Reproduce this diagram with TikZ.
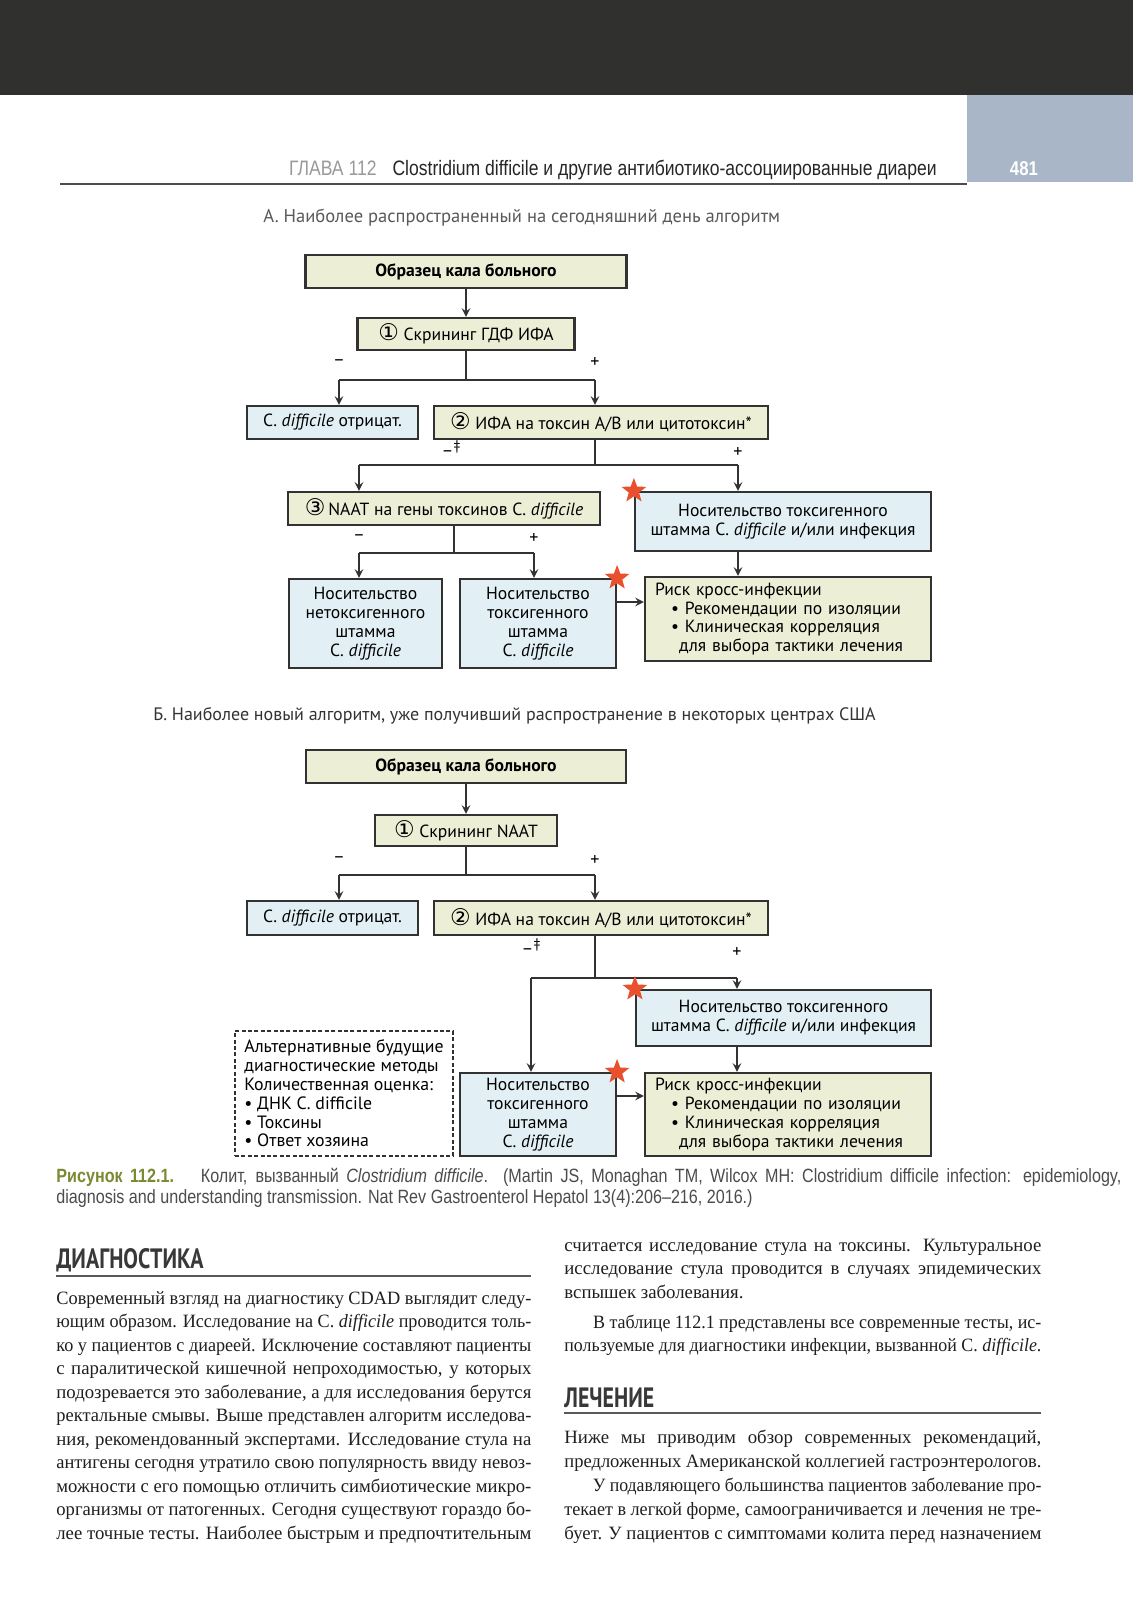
\documentclass[tikz,border=0pt]{standalone}
\usepackage{fontspec}
\usepackage{graphicx}
\usepackage{xcolor}
\usetikzlibrary{shapes,shapes.geometric,arrows,positioning,calc}
\setmainfont{Liberation Serif}
\newfontfamily\diagfont{PT Sans}
\newfontfamily\symfont{DejaVu Sans}
\newfontfamily\runfont[FakeStretch=0.84]{Liberation Sans}
\newfontfamily\secfont[FakeStretch=0.78]{PT Sans}
\definecolor{boxgreen}{RGB}{236,239,214}
\definecolor{boxblue}{RGB}{226,240,245}
\definecolor{edgegray}{RGB}{50,50,50}
\definecolor{starred}{RGB}{232,80,46}
\definecolor{bandgray}{RGB}{48,49,47}
\definecolor{tabblue}{RGB}{168,182,199}
\definecolor{figolive}{RGB}{122,138,50}
\newsavebox{\linebox}
\newcommand{\jline}[2]{%
  \sbox{\linebox}{#2}%
  \ifdim\wd\linebox>#1\relax
    \resizebox{#1}{\height}{\usebox{\linebox}}%
  \else
    \makebox[#1][s]{#2}%
  \fi}
\newcommand{\cnum}[1]{{\symfont\fontsize{11.5}{10}\selectfont #1}}
\tikzset{
    stepG/.style={rectangle, draw=edgegray, fill=boxgreen, line width=1.1pt, inner sep=2pt, align=center, font=\diagfont\fontsize{8.8}{9.4}\selectfont},
    stepB/.style={stepG, fill=boxblue},
    altbox/.style={rectangle, draw=edgegray, fill=white, line width=1pt, dash pattern=on 2pt off 1.2pt, align=left, inner sep=2pt, font=\diagfont\fontsize{8.9}{9.4}\selectfont},
    link/.style={line width=0.9pt, edgegray},
    flow/.style={link, -stealth},
    signlabel/.style={font=\diagfont\fontsize{9}{9}\selectfont, inner sep=0pt},
    starmark/.style={star, star points=5, star point ratio=2.4, fill=starred, minimum size=13pt, inner sep=0pt},
    bodyline/.style={anchor=base west, inner sep=0pt, font=\fontsize{9.4}{11}\selectfont, text=black!88},
    sechead/.style={anchor=base west, inner sep=0pt, font=\secfont\bfseries\fontsize{14}{16}\selectfont, text=black!78},
    secrule/.style={line width=1pt, black!65},
    capline/.style={anchor=base west, inner sep=0pt, font=\runfont\fontsize{9.6}{11}\selectfont, text=black!70},
}
\begin{document}
\begin{tikzpicture}[x=0.5pt, y=-0.5pt]
    \useasboundingbox (0,0) rectangle (1133,1600);
    \fill[white] (0,0) rectangle (1133,1600);

    % running head
    \fill[bandgray] (0,0) rectangle (1133,95);
    \node[fill=tabblue, anchor=north west, minimum width=83pt, minimum height=43.5pt, inner sep=0pt] (tab) at (967,95) {};
    \node[font=\runfont\bfseries\fontsize{10}{12}\selectfont, text=white, anchor=base] (pagenum) at (1024,176) {481};
    \draw[line width=0.8pt, black!70] (60,184) -- (967,184);
    \node[anchor=base east, inner sep=0pt, font=\runfont\fontsize{10.45}{12}\selectfont, text=black!85] (runhead) at (937,176)
        {{\color{black!40}ГЛАВА 112}\hspace{8pt}Clostridium difficile и другие антибиотико-ассоциированные диареи};

    % A
    \node[anchor=base west, inner sep=0pt, font=\diagfont\fontsize{9.27}{11}\selectfont, text=black!65] (capA) at (263,222)
        {А. Наиболее распространенный на сегодняшний день алгоритм};
    \node[stepG, minimum width=160.5pt, minimum height=16.5pt, font=\diagfont\bfseries\fontsize{8.8}{9.4}\selectfont] (A1) at (466,271.5) {Образец\ кала\ больного};
    \node[stepG, minimum width=108.5pt, minimum height=16pt] (A2) at (466,334) {\cnum{①} Скрининг ГДФ ИФА};
    \node[stepB, minimum width=85.5pt, minimum height=16.5pt] (A3) at (332.5,422.5) {C. \textit{difficile} отрицат.};
    \node[stepG, minimum width=167pt, minimum height=16.5pt] (A4) at (601,422.5) {\cnum{②} ИФА на токсин А/В или цитотоксин*};
    \node[stepG, minimum width=156pt, minimum height=16.5pt] (A5) at (444,508.5) {\cnum{③}\,NAAT на гены токсинов C. \textit{difficile}};
    \node[stepB, minimum width=148pt, minimum height=29.5pt] (A6) at (783,521.5) {Носительство токсигенного\\штамма C. \textit{difficile} и/или инфекция};
    \node[stepB, minimum width=76.5pt, minimum height=44.5pt] (A7) at (365.5,623.5) {Носительство\\нетоксигенного\\штамма\\C. \textit{difficile}};
    \node[stepB, minimum width=78pt, minimum height=44.5pt] (A8) at (538,623.5) {Носительство\\токсигенного\\штамма\\C. \textit{difficile}};
    \node[stepG, minimum width=143pt, minimum height=42pt, text width=133pt, align=left] (A9) at (788,619)
        {Риск кросс-инфекции\\\hspace*{8pt}• Рекомендации по изоляции\\\hspace*{8pt}• Клиническая корреляция\\\hspace*{12pt}для выбора тактики лечения};

    \coordinate (a2S) at (466,380); \coordinate (a2L) at (339,380); \coordinate (a2R) at (595,380);
    \coordinate (a4S) at (595,465); \coordinate (a4L) at (359,465); \coordinate (a4R) at (738,465);
    \coordinate (a5S) at (454,553); \coordinate (a5L) at (359,553); \coordinate (a5R) at (534,553);
    \coordinate (a8E) at (616,602);
    \draw[flow] (A1) -- (A2);
    \draw[link] (A2) -- (a2S);
    \draw[link] (a2L) -- (a2R);
    \draw[flow] (a2L) -- (a2L |- A3.north);
    \draw[flow] (a2R) -- (a2R |- A4.north);
    \draw[link] (a4S |- A4.south) -- (a4S);
    \draw[link] (a4L) -- (a4R);
    \draw[flow] (a4L) -- (a4L |- A5.north);
    \draw[flow] (a4R) -- (a4R |- A6.north);
    \draw[link] (a5S |- A5.south) -- (a5S);
    \draw[link] (a5L) -- (a5R);
    \draw[flow] (a5L) -- (a5L |- A7.north);
    \draw[flow] (a5R) -- (a5R |- A8.north);
    \draw[flow] (a4R |- A6.south) -- (a4R |- A9.north);
    \draw[flow] (a8E) -- (a8E -| A9.west);
    \foreach \x/\y/\s/\name in {339/363/–/a2m, 595/363/+/a2p, 738/453/+/a4p, 359/538/–/a5m, 534/538/+/a5p} {
        \node[signlabel] (\name) at (\x,\y) {\s};
    }
    \node[signlabel] (a4m) at (451,449) {–\raisebox{3pt}{\scriptsize ‡}};

    % B
    \node[anchor=base west, inner sep=0pt, font=\diagfont\fontsize{9}{11}\selectfont, text=black!80] (capB) at (153,720)
        {Б. Наиболее новый алгоритм, уже получивший распространение в некоторых центрах США};
    \node[stepG, minimum width=160pt, minimum height=16.5pt, font=\diagfont\bfseries\fontsize{8.8}{9.4}\selectfont] (B1) at (466,766.5) {Образец\ кала\ больного};
    \node[stepG, minimum width=91pt, minimum height=15.5pt] (B2) at (466,830.5) {\cnum{①} Скрининг NAAT};
    \node[stepB, minimum width=85.5pt, minimum height=17pt] (B3) at (332.5,918) {C. \textit{difficile} отрицат.};
    \node[stepG, minimum width=167pt, minimum height=17pt] (B4) at (601,918) {\cnum{②} ИФА на токсин А/В или цитотоксин*};
    \node[stepB, minimum width=147.5pt, minimum height=28pt] (B6) at (783.5,1018) {Носительство токсигенного\\штамма C. \textit{difficile} и/или инфекция};
    \node[stepB, minimum width=78pt, minimum height=41.5pt] (B7) at (538,1114.5) {Носительство\\токсигенного\\штамма\\C. \textit{difficile}};
    \node[stepG, minimum width=143pt, minimum height=41.5pt, text width=133pt, align=left] (B8) at (788,1114.5)
        {Риск кросс-инфекции\\\hspace*{8pt}• Рекомендации по изоляции\\\hspace*{8pt}• Клиническая корреляция\\\hspace*{12pt}для выбора тактики лечения};
    \node[altbox, minimum width=109pt, minimum height=62.5pt] (Balt) at (344,1093.5)
        {Альтернативные будущие\\диагностические методы\\Количественная оценка:\\• ДНК C. difficile\\• Токсины\\• Ответ хозяина};

    \coordinate (b2S) at (466,875); \coordinate (b2L) at (339,875); \coordinate (b2R) at (595,875);
    \coordinate (b4S) at (595,978); \coordinate (b4L) at (531,978); \coordinate (b4R) at (737,978);
    \coordinate (b7E) at (616,1096);
    \draw[flow] (B1) -- (B2);
    \draw[link] (B2) -- (b2S);
    \draw[link] (b2L) -- (b2R);
    \draw[flow] (b2L) -- (b2L |- B3.north);
    \draw[flow] (b2R) -- (b2R |- B4.north);
    \draw[link] (b4S |- B4.south) -- (b4S);
    \draw[link] (b4L) -- (b4R);
    \draw[flow] (b4L) -- (b4L |- B7.north);
    \draw[flow] (b4R) -- (b4R |- B6.north);
    \draw[flow] (b4R |- B6.south) -- (b4R |- B8.north);
    \draw[flow] (b7E) -- (b7E -| B8.west);
    \foreach \x/\y/\s/\name in {339/860/–/b2m, 595/860/+/b2p, 737/952/+/b4p} {
        \node[signlabel] (\name) at (\x,\y) {\s};
    }
    \node[signlabel] (b4m) at (531,947) {–\raisebox{3pt}{\scriptsize ‡}};

    % stars
    \foreach \name/\anc in {sA1/A6.north west, sA2/A8.north east, sB1/B6.north west, sB2/B7.north east} {
        \node[starmark] (\name) at (\anc) {};
    }

    % figure caption
    \node[capline] (fig1) at (56,1182) {\jline{532.5pt}{{\bfseries\color{figolive}Рисунок 112.1.}\hspace{6pt} Колит, вызванный \textit{Clostridium difficile}. (Martin JS, Monaghan TM, Wilcox MH: Clostridium difficile infection: epidemiology,}};
    \node[capline] (fig2) at (56,1203) {diagnosis and understanding transmission. Nat Rev Gastroenterol Hepatol 13(4):206–216, 2016.)};

    % left column
    \node[sechead] (diag) at (56,1268) {ДИАГНОСТИКА};
    \draw[secrule] (56,1276) -- (531,1276);
    \foreach \t [count=\i] in {
        {Современный взгляд на диагностику CDAD выглядит следу-},
        {ющим образом. Исследование на C. \textit{difficile} проводится толь-},
        {ко у пациентов с диареей. Исключение составляют пациенты},
        {с паралитической кишечной непроходимостью, у которых},
        {подозревается это заболевание, а для исследования берутся},
        {ректальные смывы. Выше представлен алгоритм исследова-},
        {ния, рекомендованный экспертами. Исследование стула на},
        {антигены сегодня утратило свою популярность ввиду невоз-},
        {можности с его помощью отличить симбиотические микро-},
        {организмы от патогенных. Сегодня существуют гораздо бо-},
        {лее точные тесты. Наиболее быстрым и предпочтительным}} {
        \node[bodyline] (dtxt\i) at (56,{1304+23.5*(\i-1)}) {\jline{237.5pt}{\t}};
    }

    % right column
    \foreach \y/\t [count=\i] in {
        1251/{считается исследование стула на токсины. Культуральное},
        1274.5/{исследование стула проводится в случаях эпидемических},
        1328/{\hspace*{15pt}В таблице 112.1 представлены все современные тесты, ис-},
        1351.5/{пользуемые для диагностики инфекции, вызванной C. \textit{difficile}.}} {
        \node[bodyline] (rtxt\i) at (564,\y) {\jline{238.5pt}{\t}};
    }
    \node[bodyline] (rtxt5) at (564,1298) {вспышек заболевания.};
    \node[sechead] (lech) at (564,1407) {ЛЕЧЕНИЕ};
    \draw[secrule] (564,1413) -- (1041,1413);
    \foreach \t [count=\i] in {
        {Ниже мы приводим обзор современных рекомендаций,},
        {предложенных Американской коллегией гастроэнтерологов.},
        {\hspace*{15pt}У подавляющего большинства пациентов заболевание про-},
        {текает в легкой форме, самоограничивается и лечения не тре-},
        {бует. У пациентов с симптомами колита перед назначением}} {
        \node[bodyline] (ltxt\i) at (564,{1443+24*(\i-1)}) {\jline{238.5pt}{\t}};
    }
\end{tikzpicture}
\end{document}
